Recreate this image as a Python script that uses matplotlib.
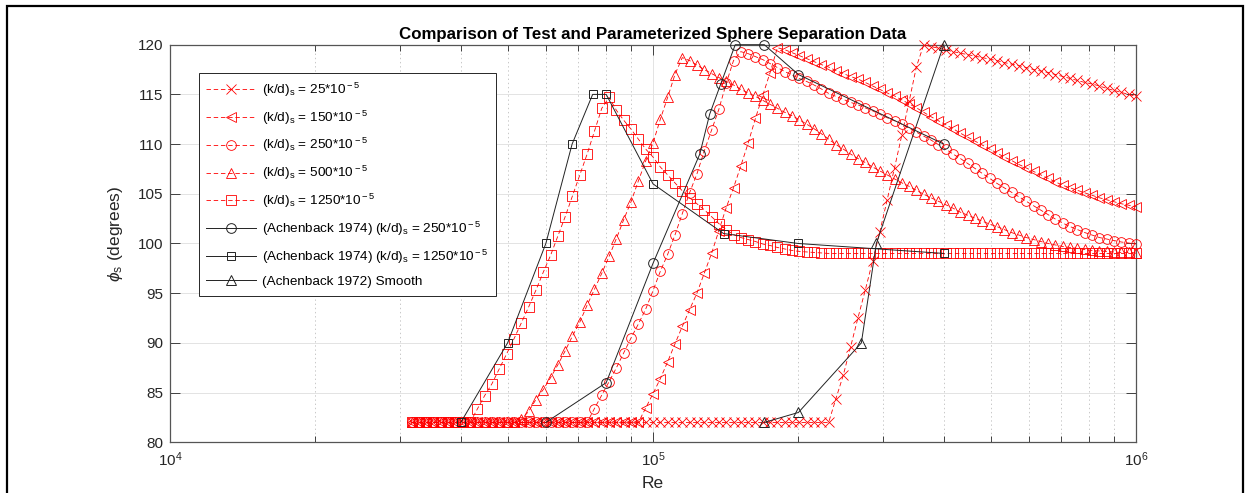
import matplotlib
matplotlib.use('Agg')
import matplotlib.pyplot as plt
from matplotlib.ticker import LogLocator, NullFormatter
from matplotlib.patches import Rectangle

plt.rcParams.update({
    'font.family': ['Liberation Sans', 'DejaVu Sans'],
    'mathtext.fontset': 'custom',
    'mathtext.rm': 'Liberation Sans',
    'mathtext.it': 'Liberation Sans:italic',
    'mathtext.bf': 'Liberation Sans:bold',
    'lines.scale_dashes': False,
})

# ---------------- data ----------------
re_grid = [
    31623, 32745, 33908, 35112, 36358, 37649, 38986, 40370, 41803, 43287, 44824,
    46416, 48064, 49770, 51537, 53367, 55261, 57223, 59255, 61359, 63537, 65793,
    68129, 70548, 73053, 75646, 78332, 81113, 83992, 86974, 90063, 93261, 96571,
    100000, 103550, 107227, 111033, 114975, 119057, 123284, 127661, 132194, 136887, 141747,
    146780, 151991, 157388, 162974, 168760, 174752, 180956, 187380, 194033, 200923, 208056,
    215443, 223092, 231014, 239213, 247706, 256501, 265607, 275037, 284803, 294914, 305385,
    316228, 327454, 339082, 351117, 363583, 376491, 389858, 403700, 418034, 432875, 448243,
    464159, 480637, 497704, 515370, 533667, 552614, 572234, 592549, 613590, 635373, 657931,
    681292, 705478, 730529, 756459, 783316, 811126, 839924, 869744, 900627, 932600, 965711,
    1000000,
]

phi_25 = [
    82, 82, 82, 82, 82, 82, 82, 82, 82, 82,
    82, 82, 82, 82, 82, 82, 82, 82, 82, 82,
    82, 82, 82, 82, 82, 82, 82, 82, 82, 82,
    82, 82, 82, 82, 82, 82, 82, 82, 82, 82,
    82, 82, 82, 82, 82, 82, 82, 82, 82, 82,
    82, 82, 82, 82, 82, 82, 82, 82, 84.4, 86.75,
    89.6, 92.5, 95.3, 98.2, 101.2, 104.4, 107.6, 110.9, 114.3, 117.8,
    120.0, 119.8, 119.65, 119.5, 119.3, 119.15, 119.0, 118.85, 118.7, 118.55,
    118.4, 118.2, 118.05, 117.9, 117.7, 117.5, 117.35, 117.2, 117.0, 116.8,
    116.6, 116.4, 116.2, 116.05, 115.85, 115.6, 115.4, 115.2, 115.0, 114.8,
]

phi_150 = [
    82, 82, 82, 82, 82, 82, 82, 82, 82, 82,
    82, 82, 82, 82, 82, 82, 82, 82, 82, 82,
    82, 82, 82, 82, 82, 82, 82, 82, 82, 82,
    82, 82, 83.45, 84.9, 86.4, 88.1, 89.9, 91.65, 93.35, 95.0,
    97.0, 99.0, 101.3, 103.6, 105.6, 107.8, 110.1, 112.6, 114.9, 117.2,
    119.7, 119.5, 119.2, 118.9, 118.6, 118.3, 118.0, 117.75, 117.4, 117.1,
    116.8, 116.55, 116.2, 115.85, 115.5, 115.15, 114.85, 114.45, 114.05, 113.65,
    113.2, 112.75, 112.35, 111.95, 111.55, 111.1, 110.7, 110.3, 109.9, 109.5,
    109.1, 108.7, 108.35, 107.95, 107.6, 107.25, 106.9, 106.55, 106.2, 105.85,
    105.6, 105.35, 105.1, 104.85, 104.6, 104.4, 104.2, 104.0, 103.85, 103.7,
]

phi_250 = [
    82, 82, 82, 82, 82, 82, 82, 82, 82, 82,
    82, 82, 82, 82, 82, 82, 82, 82, 82, 82,
    82, 82, 82, 82, 82, 83.4, 84.75, 86.1, 87.5, 89.0,
    90.5, 91.9, 93.4, 95.25, 97.2, 98.9, 100.85, 103.0, 105.1, 107.0,
    109.3, 111.4, 113.5, 116.1, 118.4, 119.3, 119.1, 118.8, 118.5, 118.1,
    117.7, 117.3, 116.95, 116.6, 116.3, 115.95, 115.55, 115.1, 114.8, 114.5,
    114.2, 113.95, 113.65, 113.35, 113.0, 112.65, 112.35, 112.0, 111.6, 111.2,
    110.8, 110.4, 109.95, 109.5, 109.0, 108.55, 108.05, 107.55, 107.05, 106.55,
    106.05, 105.6, 105.15, 104.7, 104.25, 103.8, 103.35, 102.9, 102.45, 102.05,
    101.7, 101.4, 101.1, 100.85, 100.6, 100.45, 100.3, 100.15, 100.05, 99.95,
]

phi_500 = [
    82, 82, 82, 82, 82, 82, 82, 82, 82, 82,
    82, 82, 82, 82, 82, 82.3, 83.1, 84.3, 85.3, 86.5,
    87.8, 89.2, 90.7, 92.1, 93.8, 95.4, 97.0, 98.7, 100.5, 102.4,
    104.2, 106.3, 108.3, 110.1, 112.5, 114.7, 117.0, 118.7, 118.4, 117.95,
    117.5, 117.1, 116.7, 116.3, 115.95, 115.5, 115.15, 114.8, 114.4, 114.0,
    113.6, 113.2, 112.85, 112.45, 112.0, 111.55, 111.05, 110.5, 109.95, 109.5,
    109.0, 108.55, 108.15, 107.7, 107.3, 106.9, 106.5, 106.1, 105.75, 105.35,
    104.95, 104.6, 104.25, 103.9, 103.55, 103.15, 102.85, 102.55, 102.25, 101.95,
    101.7, 101.4, 101.1, 100.85, 100.6, 100.4, 100.2, 100.0, 99.85, 99.7,
    99.6, 99.5, 99.4, 99.3, 99.25, 99.2, 99.15, 99.1, 99.1, 99.05,
]

phi_1250 = [
    82, 82, 82, 82, 82, 82, 82, 82, 82, 83.35,
    84.7, 85.9, 87.4, 88.9, 90.4, 92.0, 93.6, 95.3, 97.1, 98.8,
    100.75, 102.7, 104.8, 106.9, 109.0, 111.3, 113.6, 114.7, 113.4, 112.4,
    111.5, 110.5, 109.5, 108.7, 107.7, 106.9, 106.1, 105.3, 104.6, 104.0,
    103.4, 102.7, 102.0, 101.4, 100.9, 100.6, 100.4, 100.2, 99.95, 99.8,
    99.6, 99.45, 99.3, 99.2, 99.15, 99.1, 99.05, 99.0, 99.0, 99.0,
    99.0, 99.0, 99.0, 99.0, 99.0, 99.0, 99.0, 99.0, 99.0, 99.0,
    99.0, 99.0, 99.0, 99.0, 99.0, 99.0, 99.0, 99.0, 99.0, 99.0,
    99.0, 99.0, 99.0, 99.0, 99.0, 99.0, 99.0, 99.0, 99.0, 99.0,
    99.0, 99.0, 99.0, 99.0, 99.0, 99.0, 99.0, 99.0, 99.0, 99.0,
]

ach74_250_re = [60000, 80000, 100000, 125000, 131000, 138000, 148000, 170000, 200000, 400000]
ach74_250_phi = [82, 86, 98, 109, 113, 116, 120, 120, 117, 110]

ach74_1250_re = [40000, 50000, 60000, 68000, 75000, 80000, 100000, 140000, 200000, 400000]
ach74_1250_phi = [82, 90, 100, 110, 115, 115, 106, 101, 100, 99]

ach72_smooth_re = [170000, 200000, 270000, 290000, 400000]
ach72_smooth_phi = [82, 83, 90, 100, 120]

param_series = [phi_25, phi_150, phi_250, phi_500, phi_1250]
param_markers = ['x', '<', 'o', '^', 's']
param_labels = [
    r'(k/d)$_{\rm s}$ = 25*10$^{\rm -5}$',
    r'(k/d)$_{\rm s}$ = 150*10$^{\rm -5}$',
    r'(k/d)$_{\rm s}$ = 250*10$^{\rm -5}$',
    r'(k/d)$_{\rm s}$ = 500*10$^{\rm -5}$',
    r'(k/d)$_{\rm s}$ = 1250*10$^{\rm -5}$',
]
test_labels = [
    r'(Achenback 1974) (k/d)$_{\rm s}$ = 250*10$^{\rm -5}$',
    r'(Achenback 1974) (k/d)$_{\rm s}$ = 1250*10$^{\rm -5}$',
    '(Achenback 1972) Smooth',
]

# ---------------- figure ----------------
W, H = 1249, 493
fig = plt.figure(figsize=(W / 100, H / 100), dpi=100)
ax_l, ax_r, ax_t, ax_b = 170, 1136, 44.7, 442.3
ax = fig.add_axes([ax_l / W, 1 - ax_b / H, (ax_r - ax_l) / W, (ax_b - ax_t) / H])

red = (1.0, 0.0, 0.0)
red_ms = {'x': 7.0, '<': 7.5, 'o': 7.0, '^': 7.5, 's': 6.5}
for phi, mk, lab in zip(param_series, param_markers, param_labels):
    ax.plot(re_grid, phi, linestyle='--', dashes=(3.2, 2.0), color=red, lw=0.6,
            marker=mk, ms=red_ms[mk], mfc='none', mec=red, mew=0.6, label=lab,
            clip_on=False, zorder=3)

blk = '#222222'
ax.plot(ach74_250_re, ach74_250_phi, '-', color=blk, lw=0.7, marker='o', ms=7.0,
        mfc='none', mec=blk, mew=0.7, label=test_labels[0], clip_on=False, zorder=4)
ax.plot(ach74_1250_re, ach74_1250_phi, '-', color=blk, lw=0.7, marker='s', ms=6.0,
        mfc='none', mec=blk, mew=0.7, label=test_labels[1], clip_on=False, zorder=4)
ax.plot(ach72_smooth_re, ach72_smooth_phi, '-', color=blk, lw=0.7, marker='^', ms=7.5,
        mfc='none', mec=blk, mew=0.7, label=test_labels[2], clip_on=False, zorder=4)

ax.set_xscale('log')
ax.set_xlim(1e4, 1e6)
ax.set_ylim(80, 120)
ax.set_yticks(list(range(80, 121, 5)))
ax.xaxis.set_minor_locator(LogLocator(base=10, subs=[2, 3, 4, 5, 6, 7, 8, 9]))
ax.xaxis.set_minor_formatter(NullFormatter())

tick_col = '#262626'
ax.tick_params(which='both', direction='in', top=True, right=True,
               labelsize=11, labelcolor=tick_col, color=tick_col, width=0.6)
ax.tick_params(which='major', length=7)
ax.tick_params(which='minor', length=4)
ax.tick_params(axis='y', pad=5)
ax.tick_params(axis='x', pad=6)

ax.grid(which='major', color='#e3e3e3', lw=0.7, ls='-')
ax.grid(which='minor', axis='x', color='#c8c8c8', lw=0.7, ls=(0, (1, 2)))
ax.set_axisbelow(True)
for sp in ax.spines.values():
    sp.set_color('#555555')
    sp.set_linewidth(0.9)

ax.set_title('Comparison of Test and Parameterized Sphere Separation Data',
             fontsize=12.2, fontweight='bold', pad=4)
ax.set_xlabel('Re', fontsize=12.5, color=tick_col, labelpad=5)
ax.set_ylabel(r'$\phi_{\rm s}$ (degrees)', fontsize=12.5, color=tick_col)
ax.yaxis.set_label_coords(-0.047, 0.525)

leg = ax.legend(loc='upper left',
                bbox_to_anchor=((199 - ax_l) / (ax_r - ax_l), (ax_b - 73) / (ax_b - ax_t)),
                borderaxespad=0, fontsize=9.7, frameon=True, fancybox=False,
                edgecolor='#262626', framealpha=1, labelspacing=0.72,
                handlelength=3.7, handletextpad=0.4, borderpad=0.55, numpoints=1)
leg.get_frame().set_linewidth(0.7)
leg.set_zorder(10)

fig.add_artist(Rectangle((6.5 / W, -0.05), (1242.5 - 6.5) / W, 1.05 - 6.5 / H,
                         transform=fig.transFigure, fill=False, ec='black', lw=1.6,
                         clip_on=False))

fig.savefig('out.png', dpi=100)
